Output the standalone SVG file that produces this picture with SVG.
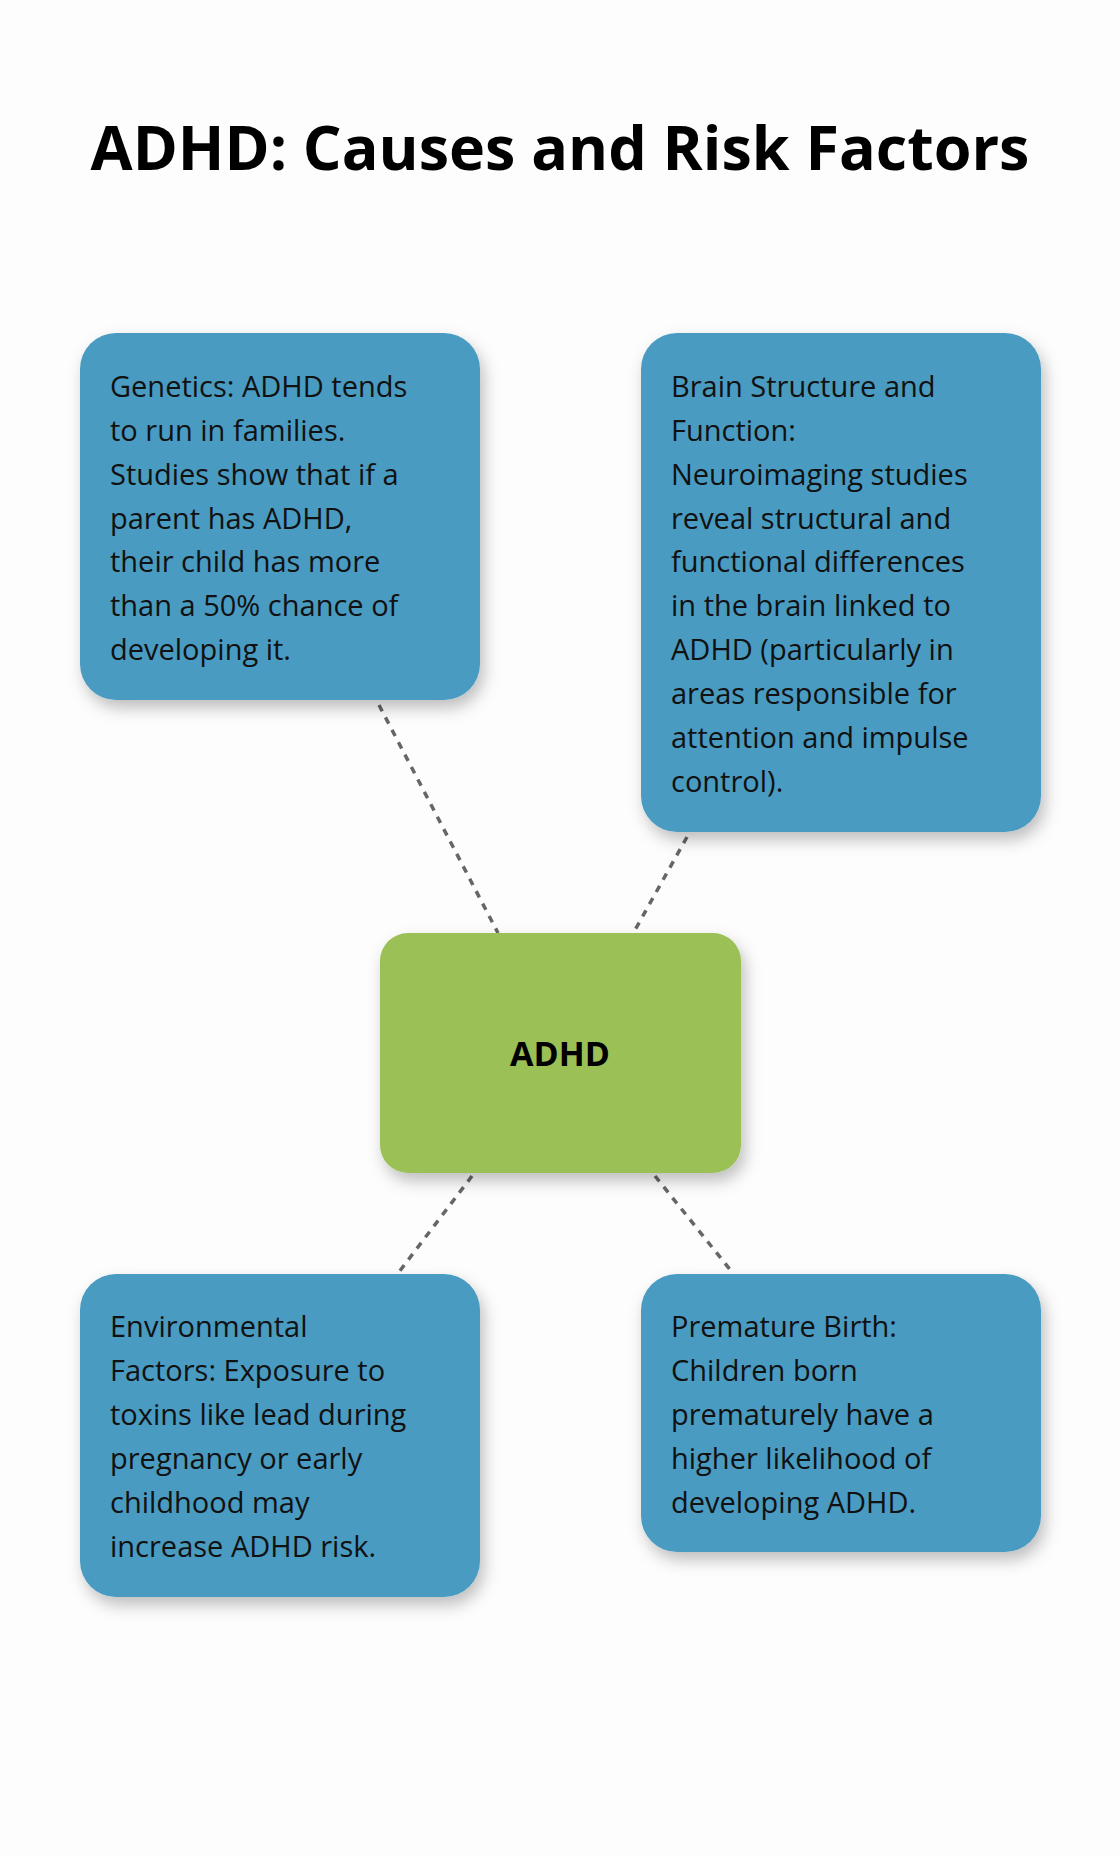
<svg xmlns="http://www.w3.org/2000/svg" width="1120" height="1856" viewBox="0 0 1120 1856">
<defs>
<filter id="sh" x="-20%" y="-20%" width="140%" height="150%"><feDropShadow dx="4" dy="8" stdDeviation="8" flood-color="#000" flood-opacity="0.25"/></filter>
<style>
.b{fill:#4A9BC1;filter:url(#sh)}
.t{font-family:"Open Sans","Liberation Sans",sans-serif;font-size:29px;fill:#111}
.c{stroke:#666;stroke-width:3.5;stroke-dasharray:7 7;fill:none}
</style>
</defs>
<rect width="1120" height="1856" fill="#fdfdfd"/>
<text x="560" y="170" text-anchor="middle" font-family="'Open Sans','Liberation Sans',sans-serif" font-weight="bold" font-size="61" fill="#000">ADHD: Causes and Risk Factors</text>
<g id="connectors">
<line class="c" x1="379" y1="705" x2="498" y2="933"/>
<line class="c" x1="687" y1="837" x2="635" y2="930"/>
<line class="c" x1="472" y1="1176" x2="399" y2="1272"/>
<line class="c" x1="655" y1="1176" x2="732" y2="1272"/>
</g>
<g id="center"><rect x="380" y="933" width="361" height="240" rx="28" fill="#9AC057" filter="url(#sh)"/>
<text x="560" y="1066" text-anchor="middle" font-family="'Open Sans','Liberation Sans',sans-serif" font-weight="bold" font-size="34" fill="#000">ADHD</text></g>
<g id="genetics"><rect class="b" x="80" y="333" width="400" height="367" rx="36"/>
<text class="t"><tspan x="110" y="397">Genetics: ADHD tends</tspan><tspan x="110" y="441">to run in families.</tspan><tspan x="110" y="485">Studies show that if a</tspan><tspan x="110" y="529">parent has ADHD,</tspan><tspan x="110" y="572">their child has more</tspan><tspan x="110" y="616">than a 50% chance of</tspan><tspan x="110" y="660">developing it.</tspan></text></g>
<g id="brain"><rect class="b" x="641" y="333" width="400" height="499" rx="36"/>
<text class="t"><tspan x="671" y="397">Brain Structure and</tspan><tspan x="671" y="441">Function:</tspan><tspan x="671" y="485">Neuroimaging studies</tspan><tspan x="671" y="529">reveal structural and</tspan><tspan x="671" y="572">functional differences</tspan><tspan x="671" y="616">in the brain linked to</tspan><tspan x="671" y="660">ADHD (particularly in</tspan><tspan x="671" y="704">areas responsible for</tspan><tspan x="671" y="748">attention and impulse</tspan><tspan x="671" y="792">control).</tspan></text></g>
<g id="environmental"><rect class="b" x="80" y="1274" width="400" height="323" rx="36"/>
<text class="t"><tspan x="110" y="1337">Environmental</tspan><tspan x="110" y="1381">Factors: Exposure to</tspan><tspan x="110" y="1425">toxins like lead during</tspan><tspan x="110" y="1469">pregnancy or early</tspan><tspan x="110" y="1513">childhood may</tspan><tspan x="110" y="1557">increase ADHD risk.</tspan></text></g>
<g id="premature"><rect class="b" x="641" y="1274" width="400" height="278" rx="36"/>
<text class="t"><tspan x="671" y="1337">Premature Birth:</tspan><tspan x="671" y="1381">Children born</tspan><tspan x="671" y="1425">prematurely have a</tspan><tspan x="671" y="1469">higher likelihood of</tspan><tspan x="671" y="1513">developing ADHD.</tspan></text></g>
</svg>
